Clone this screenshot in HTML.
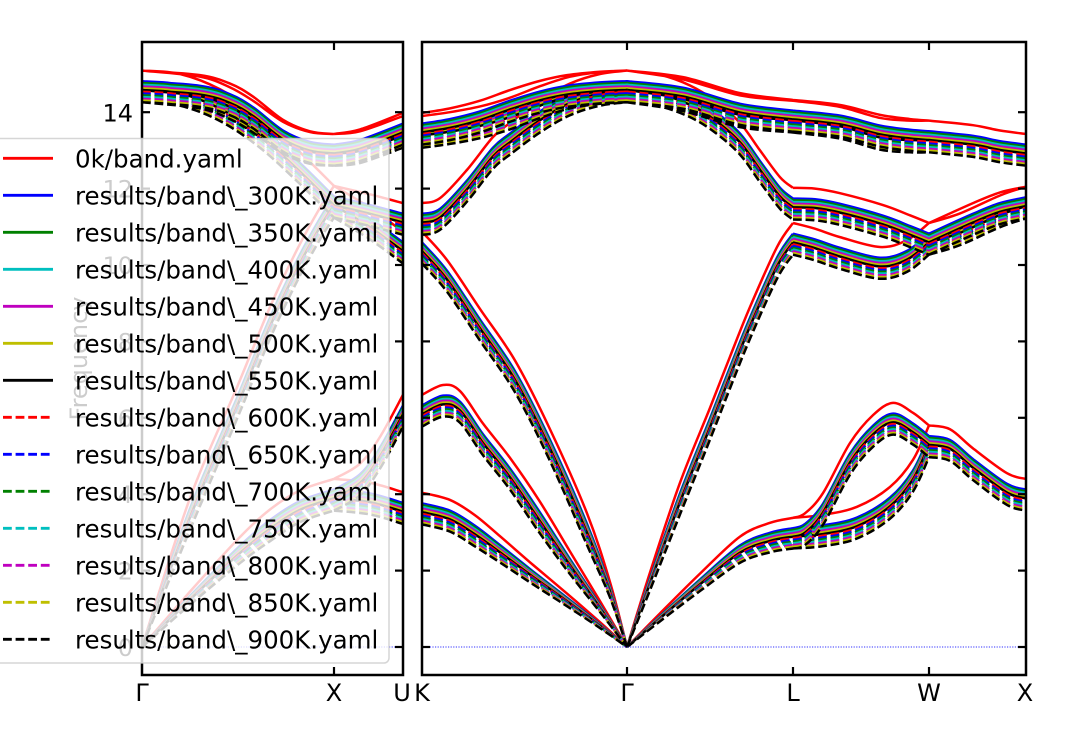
<!DOCTYPE html>
<html><head><meta charset="utf-8">
<style>
html,body{margin:0;padding:0;background:#fff;}
svg{display:block;}
text{font-family:"DejaVu Sans","Liberation Sans",sans-serif;}
</style></head>
<body>
<svg id="c" width="1080" height="730" viewBox="0 0 1080 730" xmlns="http://www.w3.org/2000/svg">
<defs>
<clipPath id="cl"><rect x="142" y="42" width="261" height="633"/></clipPath>
<clipPath id="cr"><rect x="422" y="42" width="604" height="633"/></clipPath>
</defs>
<rect width="1080" height="730" fill="#fff"/>
<g id="gL" clip-path="url(#cl)" fill="none" stroke-linejoin="round" stroke-linecap="butt"></g>
<g id="gR" clip-path="url(#cr)" fill="none" stroke-linejoin="round" stroke-linecap="butt"></g>
<!-- zero lines -->
<line x1="142" y1="647" x2="403" y2="647" stroke="#1010ff" stroke-width="1.1" stroke-dasharray="1.2 1.4" opacity="0.85"/>
<line x1="422" y1="647" x2="1026" y2="647" stroke="#1010ff" stroke-width="1.1" stroke-dasharray="1.2 1.4" opacity="0.85"/>
<!-- spines -->
<rect x="142" y="42" width="261" height="633" fill="none" stroke="#000" stroke-width="2.5"/>
<rect x="422" y="42" width="604" height="633" fill="none" stroke="#000" stroke-width="2.5"/>
<g id="ticks" stroke="#000" stroke-width="2.2"></g>
<!-- y tick labels -->
<g font-size="24" fill="#000" text-anchor="end">
<text x="133" y="121.5">14</text>
<text x="133" y="197.5">12</text>
<text x="133" y="274">10</text>
<text x="133" y="350.5">8</text>
<text x="133" y="427">6</text>
<text x="133" y="503">4</text>
<text x="133" y="579.5">2</text>
<text x="133" y="656">0</text>
</g>
<text transform="translate(87,358.5) rotate(-90)" font-size="24" text-anchor="middle" fill="#000">Frequency</text>
<!-- x tick labels -->
<g font-size="24" fill="#000" text-anchor="middle">
<text x="142" y="701">Γ</text>
<text x="334" y="701">X</text>
<text x="402" y="701">U</text>
<text x="422" y="701">K</text>
<text x="627" y="701">Γ</text>
<text x="793" y="701">L</text>
<text x="929" y="701">W</text>
<text x="1025" y="701">X</text>
</g>
<!-- legend -->
<rect x="-20" y="138.5" width="409" height="524.5" rx="5" ry="5" fill="#fff" fill-opacity="0.8" stroke="#cccccc" stroke-opacity="0.8" stroke-width="1.5"/>
<g id="leg" font-size="24.5" fill="#000"></g>
</svg>
<script>
(function(){
var NS="http://www.w3.org/2000/svg";
function Y(f){return 647-38.2*f;}
function pathD(pts){
  var d="M"+pts[0][0].toFixed(2)+","+pts[0][1].toFixed(2);
  for(var i=0;i<pts.length-1;i++){
    var p0=pts[Math.max(i-1,0)],p1=pts[i],p2=pts[i+1],p3=pts[Math.min(i+2,pts.length-1)];
    var c1x=p1[0]+(p2[0]-p0[0])/6,c1y=p1[1]+(p2[1]-p0[1])/6;
    var c2x=p2[0]-(p3[0]-p1[0])/6,c2y=p2[1]-(p3[1]-p1[1])/6;
    d+=" C"+c1x.toFixed(2)+","+c1y.toFixed(2)+" "+c2x.toFixed(2)+","+c2y.toFixed(2)+" "+p2[0].toFixed(2)+","+p2[1].toFixed(2);
  }
  return d;
}
var segL=[
 [[142,15.09],[200,14.97],[230,14.75],[253,14.41],[283,13.8],[310,13.5],[334,13.43]],
 [[142,15.09],[200,14.93],[230,14.65],[253,14.3],[283,13.75],[310,13.48],[334,13.43]],
 [[142,15.09],[180,15.0],[220,14.6],[260,13.9],[300,12.95],[334,12.07]],
 [[142,0],[190,3.9],[237,6.8],[270,8.9],[297,10.4],[320,11.5],[334,12.07]],
 [[142,0],[190,1.45],[240,2.88],[270,3.6],[300,4.1],[334,4.4]],
 [[334,13.43],[360,13.55],[403,13.98]],
 [[334,13.43],[360,13.5],[403,13.9]],
 [[334,12.07],[370,11.85],[403,11.62]],
 [[334,12.07],[370,11.5],[403,10.87]],
 [[334,4.4],[370,4.3],[403,4.05]],
 [[334,4.4],[360,4.8],[380,5.5],[403,6.6]]
];
var segR=[
 [[422,13.98],[450,14.1],[480,14.3],[510,14.58],[540,14.82],[567,14.97],[600,15.06],[627,15.09]],
 [[422,13.9],[450,14.0],[480,14.15],[510,14.38],[540,14.68],[570,14.93],[600,15.05],[627,15.09]],
 [[422,11.62],[440,11.75],[467,12.49],[493,13.35],[510,13.72],[540,14.3],[570,14.75],[600,15.0],[627,15.09]],
 [[422,10.87],[447,10.13],[480,8.85],[515,7.5],[550,5.7],[587,3.5],[610,1.7],[627,0]],
 [[422,6.6],[443,6.86],[460,6.7],[483,5.85],[510,4.95],[540,3.8],[570,2.5],[600,1.2],[627,0]],
 [[422,4.04],[450,3.85],[475,3.45],[500,2.9],[533,2.15],[567,1.4],[600,0.65],[627,0]],
 [[627,15.09],[683,14.92],[740,14.5],[793,14.32]],
 [[627,15.09],[683,14.86],[740,14.44],[793,14.3]],
 [[627,15.09],[660,14.98],[690,14.7],[715,14.3],[740,13.72],[760,13.0],[780,12.3],[793,12.02]],
 [[627,0],[650,1.95],[680,4.3],[710,6.26],[730,7.6],[750,8.9],[777,10.47],[793,11.1]],
 [[627,0],[660,0.88],[700,1.92],[740,2.89],[770,3.25],[793,3.38]],
 [[793,14.32],[840,14.19],[880,13.93],[910,13.82],[929,13.78]],
 [[793,14.3],[840,14.14],[880,13.85],[910,13.78],[929,13.78]],
 [[793,12.02],[815,12.0],[840,11.88],[883,11.57],[910,11.3],[929,11.1]],
 [[793,11.1],[815,10.95],[840,10.73],[880,10.47],[907,10.65],[929,11.1]],
 [[793,3.38],[805,3.5],[823,4.03],[850,5.34],[873,6.07],[893,6.39],[913,6.13],[929,5.8]],
 [[793,3.38],[823,3.46],[857,3.67],[890,4.19],[913,4.9],[929,5.8]],
 [[929,13.78],[973,13.66],[1000,13.52],[1026,13.43]],
 [[929,11.1],[973,11.62],[1000,11.9],[1026,12.05]],
 [[929,11.1],[960,11.35],[1000,11.82],[1026,12.05]],
 [[929,5.8],[950,5.7],[973,5.2],[1007,4.55],[1026,4.4]]
];
var cols=["#ff0000","#0000ff","#008000","#00bfbf","#bf00bf","#bfbf00","#000000"];
var names=["0k/band.yaml"];
for(var t=300;t<=900;t+=50){names.push("results/band\\_"+t+"K.yaml");}
function build(segs,a){
  var d="";
  for(var s=0;s<segs.length;s++){
    var pts=segs[s].map(function(p){var f=p[1];return [p[0],Y(f-a*Math.min(1,f/3.5))];});
    d+=pathD(pts)+" ";
  }
  return d;
}
var gL=document.getElementById("gL"),gR=document.getElementById("gR"),leg=document.getElementById("leg");
for(var i=0;i<14;i++){
  var T=i==0?0:300+50*(i-1);
  var a=i==0?0:0.28+(T-300)/600*0.55;
  var col=cols[i==0?0:(i<=6?i:i-7)];
  var dashed=i>=7;
  [[gL,segL],[gR,segR]].forEach(function(pair){
    var p=document.createElementNS(NS,"path");
    p.setAttribute("d",build(pair[1],a));
    p.setAttribute("stroke",col);
    p.setAttribute("stroke-width","2.5");
    if(dashed)p.setAttribute("stroke-dasharray","8.8 3.8");
    pair[0].appendChild(p);
  });
  var cy=158.3+37*i;
  var ln=document.createElementNS(NS,"line");
  ln.setAttribute("x1","3");ln.setAttribute("x2","53");
  ln.setAttribute("y1",cy);ln.setAttribute("y2",cy);
  ln.setAttribute("stroke",col);ln.setAttribute("stroke-width","2.8");
  if(dashed)ln.setAttribute("stroke-dasharray","8.8 3.8");
  leg.appendChild(ln);
  var tx=document.createElementNS(NS,"text");
  tx.setAttribute("x","75");tx.setAttribute("y",(cy+9).toFixed(1));
  tx.textContent=names[i];
  leg.appendChild(tx);
}
var tk=document.getElementById("ticks");
function L(x1,y1,x2,y2){var l=document.createElementNS(NS,"line");l.setAttribute("x1",x1);l.setAttribute("y1",y1);l.setAttribute("x2",x2);l.setAttribute("y2",y2);tk.appendChild(l);}
for(var f=0;f<=14;f+=2){
  var y=Y(f);
  L(142,y,150,y);L(403,y,395,y);L(422,y,430,y);L(1026,y,1018,y);
}
[334,627,793,929].forEach(function(x){L(x,42,x,50);L(x,675,x,667);});
})();
</script>
</body></html>
